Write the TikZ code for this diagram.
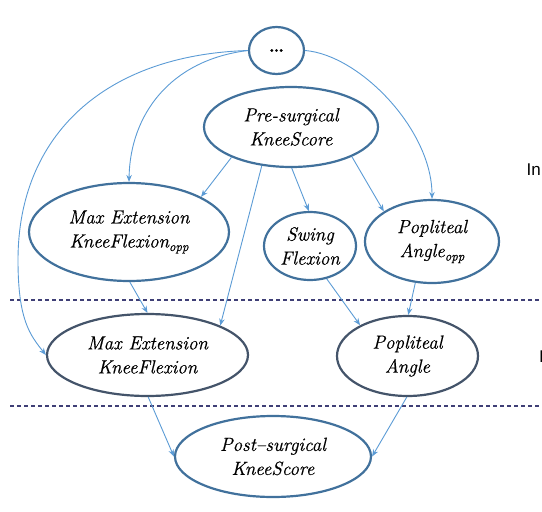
\documentclass[tikz,border=0pt]{standalone}
\usepackage{fontspec}
\newfontfamily\sidefont{Liberation Sans}
\newfontfamily\nodefont[FakeBold=0.6]{Latin Modern Roman}
\usetikzlibrary{shapes.geometric,arrows.meta}
\definecolor{nodeblue}{HTML}{41719C}
\definecolor{nodedark}{HTML}{44546A}
\definecolor{arrowblue}{HTML}{5B9BD5}
\definecolor{dashcol}{HTML}{3F3F76}
\newcommand{\oppsub}{\raisebox{-3.5pt}{\fontsize{13}{13}\selectfont opp}}
\begin{document}
\begin{tikzpicture}[x=1pt,y=-1pt,
  var/.style={ellipse,draw=nodeblue,line width=2.2pt,inner sep=0pt,align=center,
    font=\fontsize{19}{24}\selectfont\nodefont\itshape},
  vardark/.style={var,draw=nodedark},
  edge/.style={draw=arrowblue,line width=0.9pt,-{Stealth[length=7pt,width=5.5pt]}},
  sep/.style={draw=dashcol,line width=1.1pt,dash pattern=on 4pt off 3pt},
  side/.style={font=\fontsize{17}{20}\selectfont\sidefont,anchor=base west,inner sep=0pt}]
\useasboundingbox (0,0) rectangle (542,512);

\draw[sep] (10,300) coordinate (s1a) -- (542,300) coordinate (s1b);
\draw[sep] (10,406) coordinate (s2a) -- (542,406) coordinate (s2b);

\node[var, minimum width=55pt, minimum height=47pt] (dots) at (276.5,50.5) {\upshape\bfseries\ldots};
\node[var, minimum width=174pt, minimum height=80pt] (pre) at (291,127) {Pre-surgical\\KneeScore};
\node[var, minimum width=200pt, minimum height=98pt] (maxopp) at (129,232) {Max Extension\\KneeFlexion\oppsub};
\node[var, minimum width=92pt, minimum height=68pt] (swing) at (310,246) {Swing\\Flexion};
\node[var, minimum width=134pt, minimum height=83pt] (popopp) at (432,241.5) {Popliteal\\Angle\oppsub};
\node[vardark, minimum width=201pt, minimum height=82pt] (maxext) at (147.5,355) {Max Extension\\KneeFlexion};
\node[vardark, minimum width=141pt, minimum height=80pt] (popang) at (407.5,356) {Popliteal\\Angle};
\node[var, minimum width=196pt, minimum height=81pt] (post) at (273,456.5) {Post{\textendash}surgical\\KneeScore};

\node[side] (lab1) at (526.5,175) {In};
\node[side] (lab2) at (539,362) {I};

\draw[edge] (dots.west) .. controls (170,60) and (130,115) .. (maxopp.north);
\draw[edge] (dots.west) .. controls (105,55) and (18,135) .. (18,260)
  .. controls (18,320) and (30,335) .. (maxext.west);
\draw[edge] (dots.east) .. controls (360,55) and (432,130) .. (popopp.north);

\draw[edge] (pre.207) -- (maxopp.26);
\draw[edge] (pre.233) -- (maxext.22);
\draw[edge] (pre.271) -- (swing.92);
\draw[edge] (pre.334) -- (popopp.148);
\draw[edge] (maxopp.271) -- (maxext.90);
\draw[edge] (swing.297) -- (popang.147);
\draw[edge] (popopp.248) -- (popang.89);
\draw[edge] (maxext.271) -- (post.west);
\draw[edge] (popang.269) -- (post.east);
\end{tikzpicture}
\end{document}
